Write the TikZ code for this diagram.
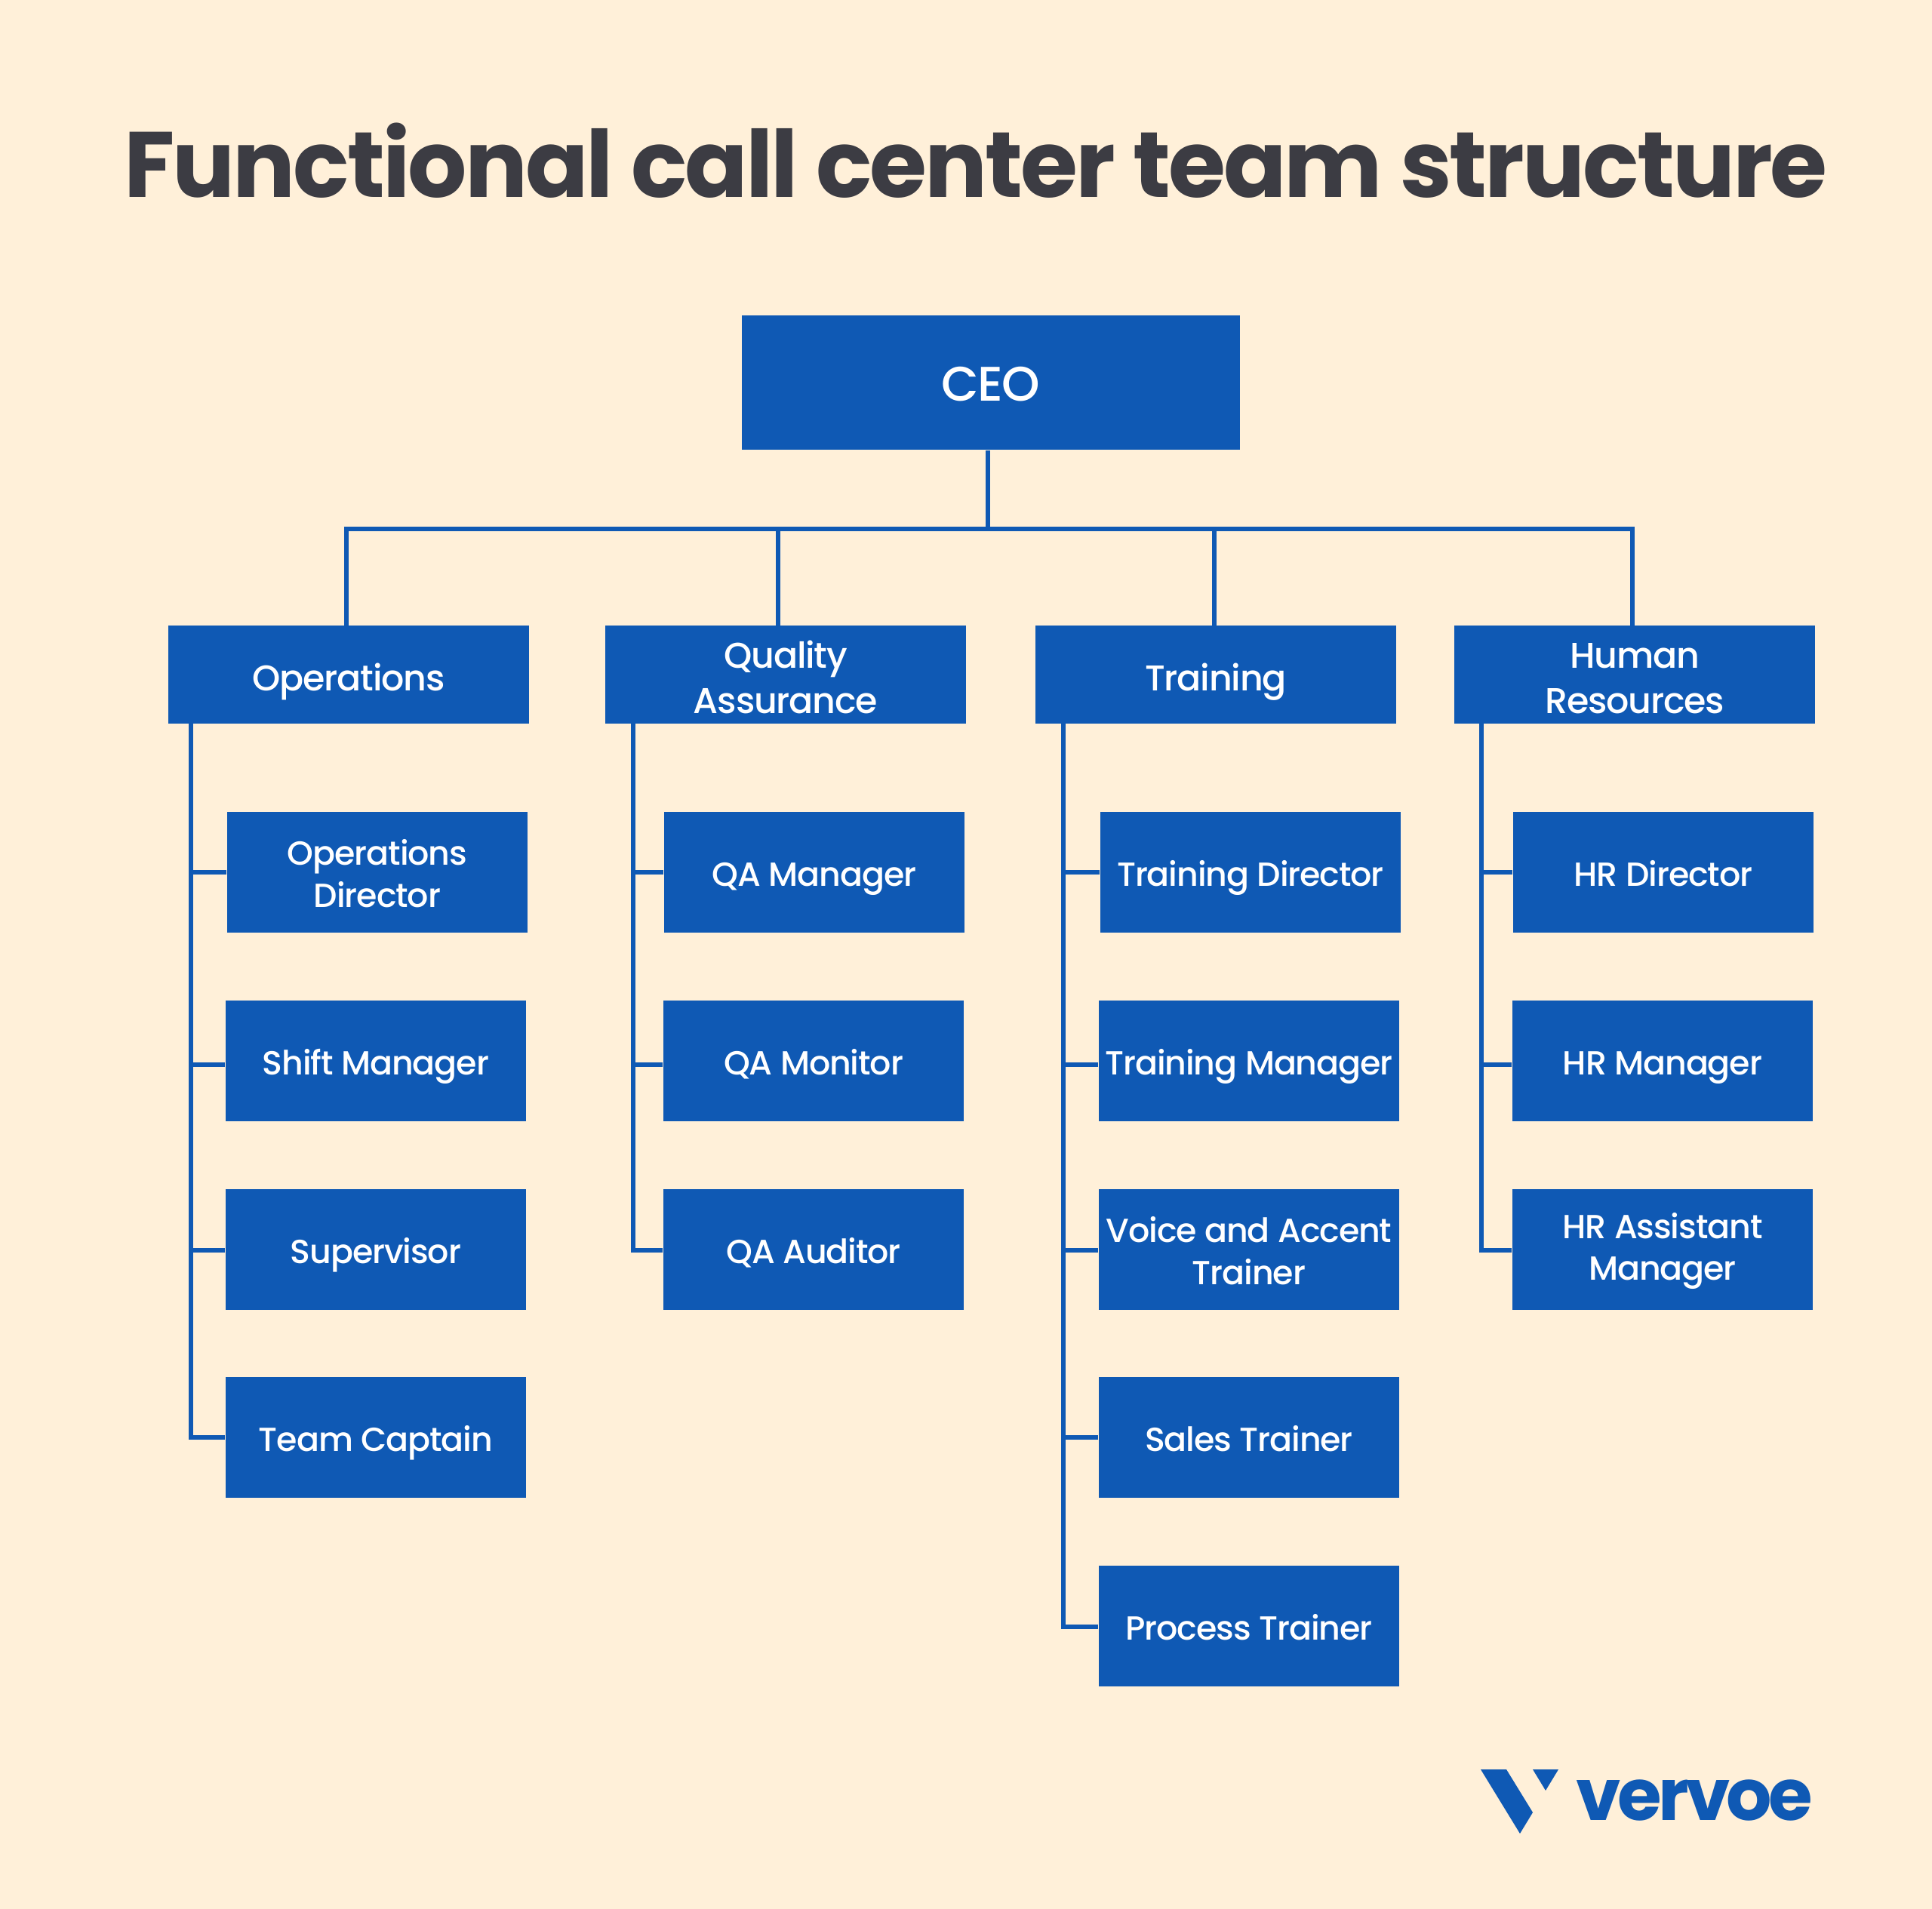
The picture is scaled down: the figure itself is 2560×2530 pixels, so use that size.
\documentclass[tikz,border=0pt]{standalone}
\usepackage{fontspec}
\setmainfont{Poppins}[UprightFont=* Medium,LetterSpace=-2.5]
\newfontfamily\titlefont{Poppins}[UprightFont=* Bold,LetterSpace=-2.4]
\newfontfamily\brandfont{Poppins}[UprightFont=* Bold,LetterSpace=-5]
\usepackage{tikz}
\definecolor{paper}{HTML}{FFF0D9}
\definecolor{boxblue}{HTML}{0F59B4}
\definecolor{titlegrey}{HTML}{3C3C43}
\tikzset{
  panel/.style={fill=boxblue, text=white, align=center, inner sep=0pt},
  headbox/.style={panel, minimum width=4.78cm, minimum height=1.29cm, font=\fontsize{13.5}{17}\selectfont},
  rolebox/.style={panel, minimum width=3.98cm, minimum height=1.6cm, font=\fontsize{12.6}{15.7}\selectfont},
  head/.style={headbox, execute at begin node={\rule[-4pt]{0pt}{20.2pt}}},
  headtwo/.style={headbox, execute at begin node={\rule{0pt}{29.2pt}}},
  role/.style={rolebox, execute at begin node={\rule[-4pt]{0pt}{18.5pt}}},
  roletwo/.style={rolebox, execute at begin node={\rule{0pt}{26.3pt}}},
  boss/.style={panel, minimum width=6.59cm, minimum height=1.78cm, font=\fontsize{18.3}{22}\selectfont, execute at begin node={\rule[-5pt]{0pt}{24.2pt}}},
  wire/.style={draw=boxblue, line width=1.5pt}
}
\begin{document}
\begin{tikzpicture}[x=0.01cm,y=-0.01cm]
\useasboundingbox (0,0) rectangle (2560,2530);
\fill [paper] (0,0) rectangle (2560,2530);
\node [anchor=base, text=titlegrey, font=\fontsize{35}{40}\titlefont] (title) at (1293,261) {Functional call center team structure};
\node [boss] (ceo) at (1313,507) {CEO};
% department row
\node [head] (ops) at (462,894) {Operations};
\node [headtwo] (qa) at (1041,894) {Quality\\Assurance};
\node [head] (train) at (1611,894) {Training};
\node [headtwo] (hr) at (2166,894) {Human\\Resources};
% operations
\node [roletwo] (opsa) at (500,1156) {Operations\\Director};
\node [role] (opsb) at (498,1406) {Shift Manager};
\node [role] (opsc) at (498,1656) {Supervisor};
\node [role] (opsd) at (498,1905) {Team Captain};
% quality assurance
\node [role] (qaa) at (1079,1156) {QA Manager};
\node [role] (qab) at (1078,1406) {QA Monitor};
\node [role] (qac) at (1078,1656) {QA Auditor};
% training
\node [role] (traina) at (1657,1156) {Training Director};
\node [role] (trainb) at (1655,1406) {Training Manager};
\node [roletwo] (trainc) at (1655,1656) {Voice and Accent\\Trainer};
\node [role] (traind) at (1655,1905) {Sales Trainer};
\node [role] (traine) at (1655,2155) {Process Trainer};
% human resources
\node [role] (hra) at (2204,1156) {HR Director};
\node [role] (hrb) at (2203,1406) {HR Manager};
\node [roletwo] (hrc) at (2203,1656) {HR Assistant\\Manager};
% bus below the ceo
\coordinate (bus) at (1309,701);
\coordinate (opstop) at (459,701);
\coordinate (qatop) at (1031,701);
\coordinate (traintop) at (1609,701);
\coordinate (hrtop) at (2163,701);
\draw [wire] (bus |- ceo.south) -- (bus);
\draw [wire] (opstop |- ops.north) |- (hrtop) -- (hrtop |- hr.north);
\draw [wire] (qatop) -- (qatop |- qa.north);
\draw [wire] (traintop) -- (traintop |- train.north);
% side rails
\coordinate (opsrail) at (253,958);
\coordinate (qarail) at (839,958);
\coordinate (trainrail) at (1409,958);
\coordinate (hrrail) at (1963,958);
\foreach \a/\s in {opsa/0,opsb/.5,opsc/.1,opsd/0} \draw [wire] ([yshift=-\s mm]\a.west) -| (opsrail);
\foreach \a/\s in {qaa/0,qab/.5,qac/.1} \draw [wire] ([yshift=-\s mm]\a.west) -| (qarail);
\foreach \a/\s in {traina/0,trainb/.5,trainc/.1,traind/0,traine/.1} \draw [wire] ([yshift=-\s mm]\a.west) -| (trainrail);
\foreach \a/\s in {hra/0,hrb/.5,hrc/.1} \draw [wire] ([yshift=-\s mm]\a.west) -| (hrrail);
% logo
\fill [boxblue] (1962,2345) -- (1996,2345) -- (2031,2402) -- (2014,2430) -- cycle;
\fill [boxblue] (2031,2345) -- (2065,2345) -- (2048,2373) -- cycle;
\node [anchor=base west, inner sep=0pt, text=boxblue, font=\fontsize{27}{30}\brandfont] (brand) at (2088,2412) {vervoe};
\end{tikzpicture}
\end{document}
